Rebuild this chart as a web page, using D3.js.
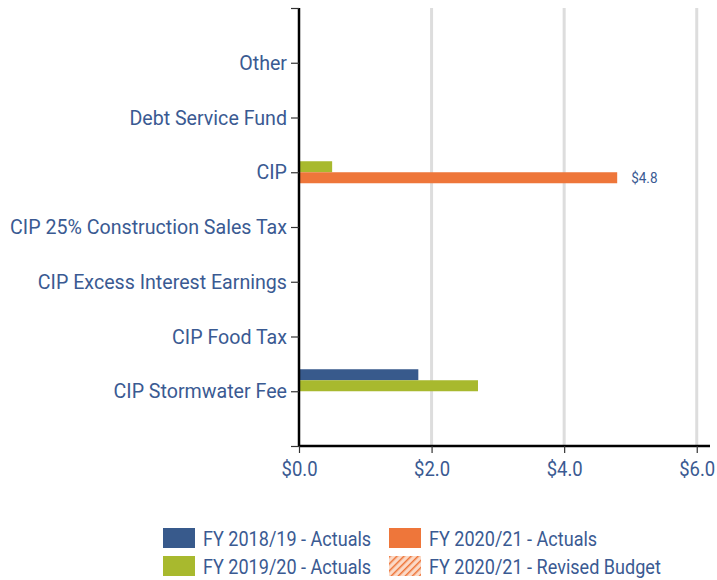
<!DOCTYPE html>
<html>
<head>
<meta charset="utf-8">
<script src="https://cdn.jsdelivr.net/npm/d3@7"></script>
<style>
  body { margin: 0; background: #fff; }
  text { font-family: Roboto, "Noto Sans", sans-serif; }
</style>
</head>
<body>
<script>
// categories top to bottom
var categories = ["", "Other", "Debt Service Fund", "CIP", "CIP 25% Construction Sales Tax",
  "CIP Excess Interest Earnings", "CIP Food Tax", "CIP Stormwater Fee", " "];
var seriesNames = ["FY 2018/19 - Actuals", "FY 2019/20 - Actuals", "FY 2020/21 - Actuals", "FY 2020/21 - Revised Budget"];
var seriesColors = ["#385a8c", "#a8b92e", "#ee763a", "#ee763a"];

// values in $ millions, one array per series (null = no bar)
var fy1819 = [null, null, null, null, null, null, null, 1.8, null];
var fy1920 = [null, null, null, 0.5, null, null, null, 2.7, null];
var fy2021 = [null, null, null, 4.8, null, null, null, null, null];
var fy2021Budget = [null, null, null, null, null, null, null, null, null];
var allSeries = [fy1819, fy1920, fy2021, fy2021Budget];
var labelled = [{series: 2, cat: 3}]; // value labels shown
var xTicks = [0, 2, 4, 6];

var textColor = "#3a5a92";

var svg = d3.select("body").append("svg")
  .attr("width", 717)
  .attr("height", 580);

var defs = svg.append("defs");
var pat = defs.append("pattern")
  .attr("id", "hatch")
  .attr("patternUnits", "userSpaceOnUse")
  .attr("width", 5).attr("height", 5)
  .attr("patternTransform", "rotate(45)");
pat.append("rect").attr("width", 5).attr("height", 5).attr("fill", "#fbd9c6");
pat.append("line").attr("x1", 0).attr("y1", 0).attr("x2", 0).attr("y2", 5)
  .attr("stroke", "#ee763a").attr("stroke-width", 3);

var x = d3.scaleLinear().domain([0, 6.2]).range([299, 710]);
var y = d3.scalePoint().domain(categories).range([8, 446]);
var barH = 11;

// squeeze text horizontally, the original font is a condensed one
function squeeze(sx) {
  return function(sel) {
    sel.each(function() {
      var t = d3.select(this);
      t.attr("x", (+t.attr("x") || 0) / sx)
        .attr("transform", "scale(" + sx + ",1)");
    });
  };
}

// gridlines
svg.append("g").selectAll("line")
  .data(xTicks.slice(1))
  .enter().append("line")
    .attr("x1", function(d) { return x(d); })
    .attr("x2", function(d) { return x(d); })
    .attr("y1", 8)
    .attr("y2", 446)
    .attr("stroke", "#dddddd")
    .attr("stroke-width", 3);

// bars
allSeries.forEach(function(vals, si) {
  svg.append("g").selectAll("rect")
    .data(vals.map(function(v, i) { return {v: v, c: categories[i]}; }).filter(function(d) { return d.v != null; }))
    .enter().append("rect")
      .attr("x", x(0))
      .attr("y", function(d) { return y(d.c) + (si - 2) * barH; })
      .attr("width", function(d) { return x(d.v) - x(0); })
      .attr("height", barH)
      .attr("fill", si == 3 ? "url(#hatch)" : seriesColors[si]);
});

// value labels
svg.append("g").selectAll("text")
  .data(labelled)
  .enter().append("text")
    .attr("x", function(d) { return x(allSeries[d.series][d.cat]) + 14; })
    .attr("y", function(d) { return y(categories[d.cat]) + (d.series - 2) * barH + barH / 2 + 5; })
    .attr("fill", textColor)
    .style("font-size", "15px")
    .text(function(d) { return "$" + d3.format(".1f")(allSeries[d.series][d.cat]); })
    .call(squeeze(0.9));

// y axis
var yAxis = svg.append("g")
  .attr("transform", "translate(" + x(0) + ",0)")
  .call(d3.axisLeft(y).tickSize(8).tickPadding(4));
yAxis.select(".domain").attr("stroke", "#000").attr("stroke-width", 2.5).attr("d", "M0,8V446");
yAxis.selectAll(".tick line").attr("stroke", "#333").attr("stroke-width", 1.2);
yAxis.selectAll(".tick text").attr("fill", textColor).style("font-size", "21px").attr("font-family", null).call(squeeze(0.935));

// x axis
var xAxis = svg.append("g")
  .attr("transform", "translate(0,446)")
  .call(d3.axisBottom(x).tickValues(xTicks).tickSize(7).tickPadding(8).tickFormat(function(d) { return "$" + d3.format(".1f")(d); }));
xAxis.select(".domain").attr("stroke", "#000").attr("stroke-width", 2.5).attr("d", "M299,0H710");
xAxis.selectAll(".tick line").attr("stroke", "#333").attr("stroke-width", 1.2);
xAxis.selectAll(".tick text").attr("fill", textColor).style("font-size", "21px").attr("font-family", null).call(squeeze(0.88));

// legend
var legendPos = [[163, 528], [163, 556], [389, 528], [389, 556]];
var legend = svg.append("g").selectAll("g")
  .data(seriesNames)
  .enter().append("g")
    .attr("transform", function(d, i) { return "translate(" + legendPos[i][0] + "," + legendPos[i][1] + ")"; });
legend.append("rect")
  .attr("width", 32)
  .attr("height", 20)
  .attr("fill", function(d, i) { return i == 3 ? "url(#hatch)" : seriesColors[i]; });
legend.append("text")
  .attr("x", 40)
  .attr("y", 18)
  .attr("fill", textColor)
  .style("font-size", "21px")
  .text(function(d) { return d; })
  .call(squeeze(0.86));
</script>
</body>
</html>
